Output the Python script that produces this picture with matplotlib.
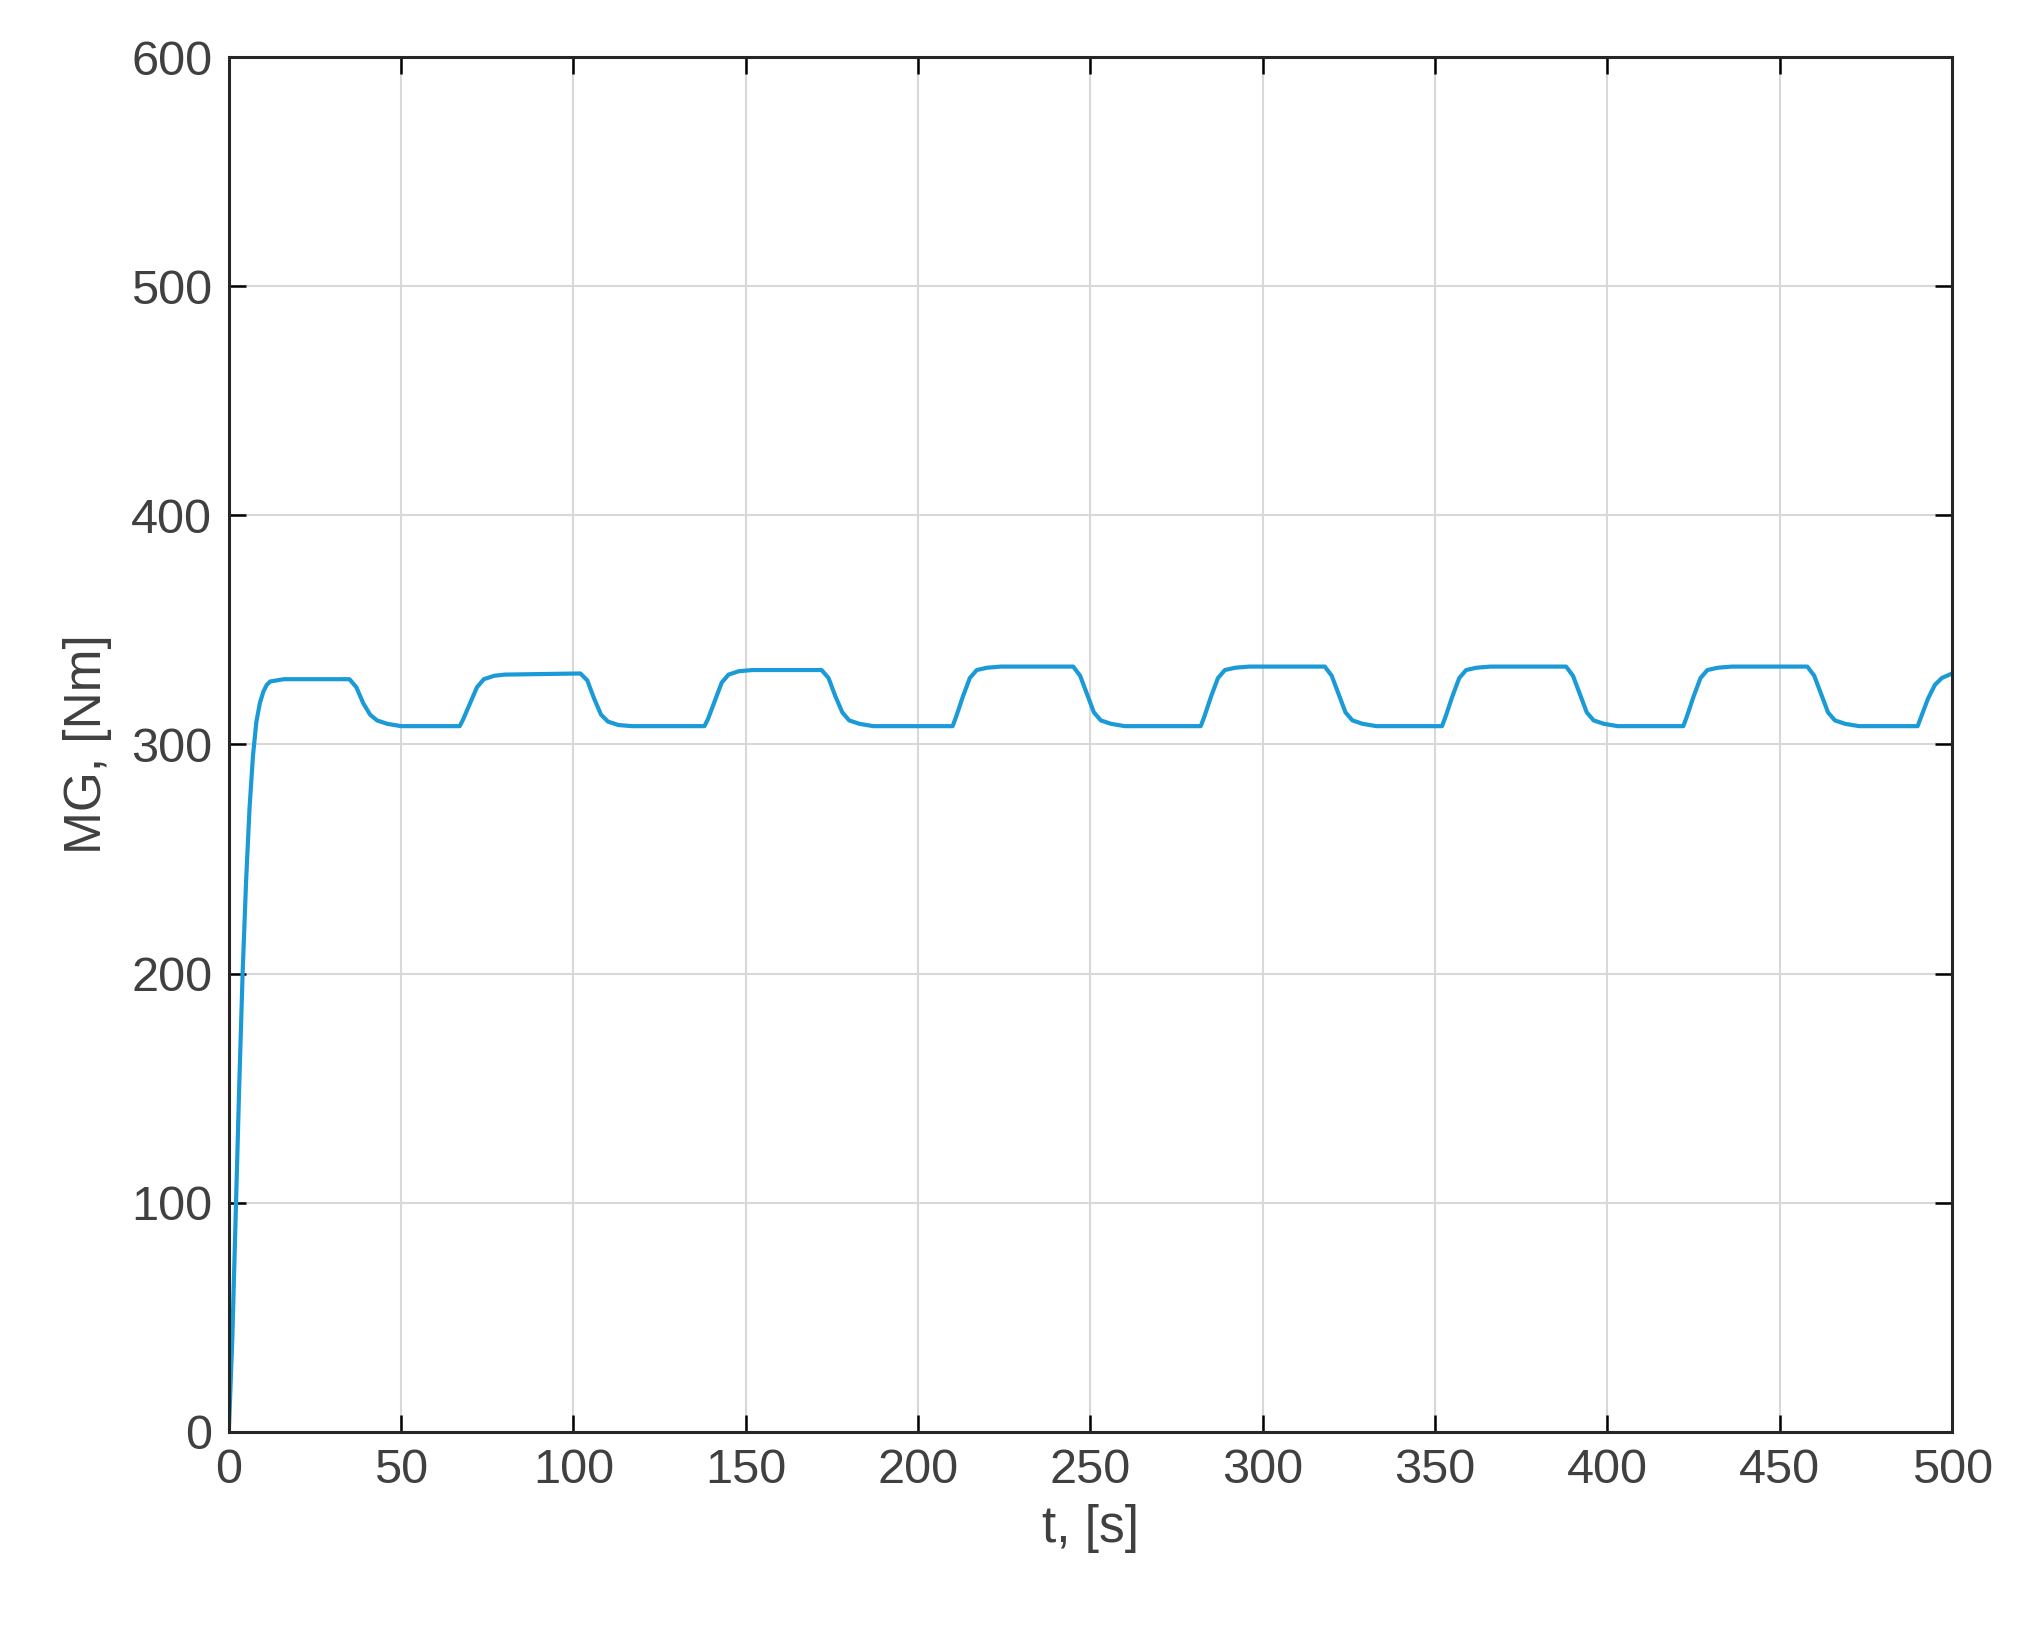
import matplotlib
matplotlib.use("Agg")
import matplotlib.pyplot as plt

t_s = [0, 1, 2, 3, 4, 5, 6, 7, 8, 9, 10, 11, 12, 14, 16, 20, 35,
       37, 39, 41, 43, 46, 50, 67,
       68, 70, 72, 74, 77, 80, 102,
       104, 106, 108, 110, 113, 117, 138,
       139, 141, 143, 145, 148, 152, 172,
       174, 176, 178, 180, 183, 187, 210,
       211, 213, 215, 217, 220, 224, 245,
       247, 249, 251, 253, 256, 260, 282,
       283, 285, 287, 289, 292, 296, 318,
       320, 322, 324, 326, 329, 333, 352,
       353, 355, 357, 359, 362, 366, 388,
       390, 392, 394, 396, 399, 403, 422,
       423, 425, 427, 429, 432, 436, 458,
       460, 462, 464, 466, 469, 473, 490,
       491, 493, 495, 497, 500]
mg_nm = [0, 40, 95, 150, 200, 240, 272, 295, 310, 318, 323, 326, 327.5, 328, 328.5, 328.5, 328.5,
         325, 318, 313, 310.5, 309, 308, 308,
         311, 318, 325, 328.5, 330, 330.5, 331,
         328, 320, 313, 310, 308.5, 308, 308,
         311, 319, 327, 330.5, 332, 332.5, 332.5,
         329, 321, 314, 310.5, 309, 308, 308,
         312, 321, 329, 332.5, 333.5, 334, 334,
         330, 322, 314, 310.5, 309, 308, 308,
         312, 321, 329, 332.5, 333.5, 334, 334,
         330, 322, 314, 310.5, 309, 308, 308,
         312, 321, 329, 332.5, 333.5, 334, 334,
         330, 322, 314, 310.5, 309, 308, 308,
         312, 321, 329, 332.5, 333.5, 334, 334,
         330, 322, 314, 310.5, 309, 308, 308,
         312, 320, 326, 329, 331]

xticks = [0, 50, 100, 150, 200, 250, 300, 350, 400, 450, 500]
yticks = [0, 100, 200, 300, 400, 500, 600]

plt.rcParams['font.family'] = ['Liberation Sans', 'DejaVu Sans']
fig = plt.figure(figsize=(20.25, 16.38), dpi=100)
ax = fig.add_axes([0.113, 0.126, 0.851, 0.839])
ax.plot(t_s, mg_nm, color='#1a9ad6', linewidth=3)
ax.set_xlim(0, 500)
ax.set_ylim(0, 600)
ax.set_xticks(xticks)
ax.set_yticks(yticks)
ax.grid(True, color='#d8d8d8', linewidth=1.5)
ax.tick_params(labelsize=35, labelcolor='#404040', direction='in', length=12, width=1.8,
               top=True, right=True, pad=12)
for s in ax.spines.values():
    s.set_linewidth(2.2)
    s.set_color('#262626')
ax.set_xlabel('t, [s]', fontsize=37, color='#404040', labelpad=8)
ax.set_ylabel('MG, [Nm]', fontsize=37, color='#404040', labelpad=14)
fig.savefig('out.png', dpi=100, facecolor='white')
